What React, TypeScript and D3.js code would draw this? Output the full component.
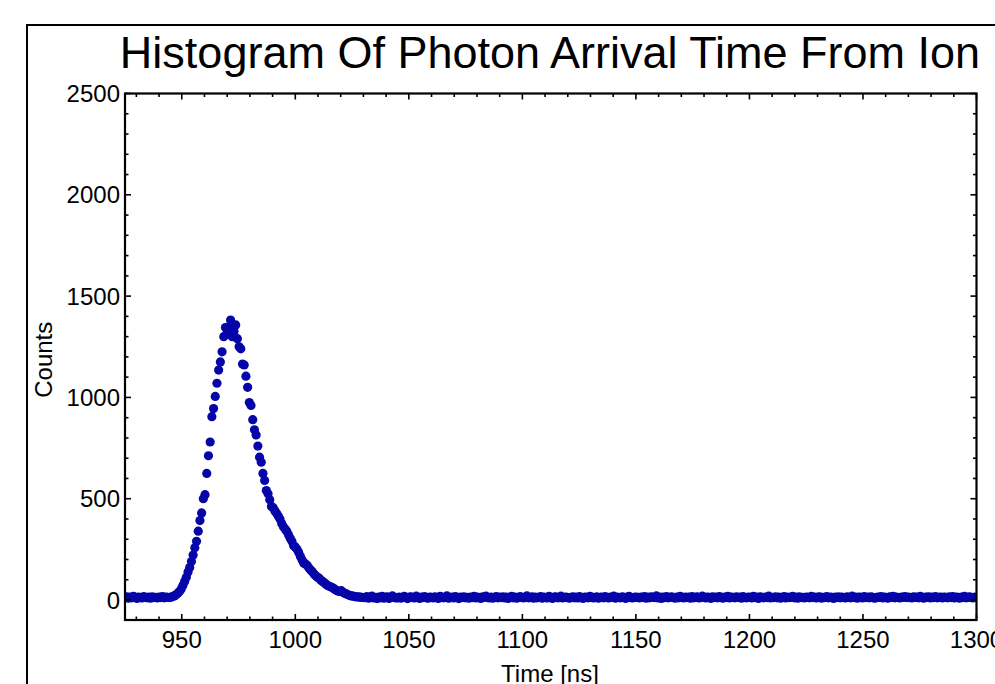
import React from "react";
import * as d3 from "d3";

// ---- data ----
const title = "Histogram Of Photon Arrival Time From Ion";
const xLabel = "Time [ns]";
const yLabel = "Counts";
const binStart = 925; // ns, time of first bin
const binWidth = 0.75; // ns
const xDomain = [925, 1300];
const yDomain = [-98.6, 2500];
const xTicks = [950, 1000, 1050, 1100, 1150, 1200, 1250, 1300];
const yTicks = [0, 500, 1000, 1500, 2000, 2500];

// counts before the pulse
const preCounts = [12, 16, 9, 14, 11, 18, 13, 8, 15, 12, 10, 17, 13, 11, 14, 9, 16, 12, 13, 10, 15, 12, 17, 11, 14, 13, 12];

// pulse region
const peakCounts = [
  14, 17, 20, 26, 33, 42, 55, 72, 92, 112, 138, 160, 190, 222, 258, 290, 340, 392, 430, 500,
  520, 625, 712, 780, 905, 945, 1005, 1070, 1135, 1175, 1225, 1300, 1345, 1320, 1350, 1382, 1300, 1325, 1358, 1290,
  1250, 1240, 1165, 1160, 1105, 1050, 975, 960, 890, 840, 815, 760, 705, 680, 625, 590, 540, 525, 495, 462,
  455, 440, 428, 415, 400, 378, 362, 350, 340, 322, 305, 290, 268, 262, 250, 235, 215, 198, 182, 178,
  170, 158, 148, 140, 128, 120, 112, 108, 98, 92, 85, 78, 72, 68, 64, 60, 54, 48, 44, 42,
  46, 38, 33, 30, 26, 22, 20, 19, 17, 15, 16, 14, 13, 12,
];

// flat tail after the pulse
const tailCounts = [
  12, 17, 9, 14, 19, 10, 13, 7, 15, 11, 18, 9, 13, 16, 8, 12, 20, 14, 10, 11,
  15, 9, 13, 18, 11, 7, 14, 16, 12, 10, 19, 13, 8, 15, 12, 17, 11, 9, 14, 13,
  10, 16, 12, 8, 18, 14, 11, 13, 20, 9, 12, 15, 10, 17, 13, 7, 14, 12, 16, 11,
  13, 9, 15, 12, 18, 10, 14, 11, 8, 16, 13, 19, 12, 10, 15, 9, 13, 17, 11, 14,
  12, 16, 10, 14, 8, 13, 18, 11, 15, 9, 12, 17, 13, 10, 14, 20, 11, 12, 16, 9,
  14, 11, 13, 17, 9, 15, 12, 10, 18, 13, 8, 14, 16, 11, 12, 19, 10, 13, 15, 12,
  9, 13, 16, 11, 14, 10, 17, 12, 8, 15, 13, 11, 18, 14, 10, 12, 16, 9, 13, 15,
  11, 17, 12, 10, 14, 13, 19, 9, 15, 12, 11, 16, 13, 8, 14, 18, 12, 10, 13, 15,
  13, 10, 15, 12, 17, 9, 14, 11, 16, 13, 12, 20, 10, 14, 8, 15, 12, 17, 11, 13,
  16, 12, 9, 14, 11, 18, 13, 10, 15, 12, 14, 9, 17, 11, 13, 16, 10, 12, 19, 14,
  10, 15, 13, 8, 16, 12, 14, 11, 17, 13, 9, 15, 12, 18, 10, 14, 13, 11, 16, 12,
  14, 9, 17, 12, 11, 15, 13, 10, 18, 12, 14, 8, 16, 13, 11, 15, 12, 19, 10, 13,
  12, 16, 11, 14, 9, 13, 17, 10, 15, 12, 13, 18, 11, 14, 9, 16, 12, 13, 10, 15,
  13, 11, 18, 12, 15, 10, 14, 16, 9, 13, 12, 17, 11, 15, 13, 8, 14, 12, 16, 11,
  15, 12, 10, 16, 13, 11, 19, 12, 14, 9, 15, 13, 10, 17, 12, 14, 11, 16, 13, 9,
  11, 14, 13, 17, 10, 15, 12, 9, 16, 13, 18, 11, 14, 12, 10, 15, 13, 17, 12, 14,
  12, 10, 16, 13, 14, 11, 18, 12, 9, 15, 13, 16, 10, 14, 12, 17, 11, 13, 15, 10,
  14, 13, 11, 16, 12, 17, 10, 15, 13, 9, 14, 12, 18, 11, 13, 16, 12, 10, 14,
];

// ---- layout ----
const W = 995;
const H = 684;
const left = 125;
const right = 976.5;
const top = 93.5;
const bottom = 620;
const font = "'Liberation Sans', Arial, Helvetica, sans-serif";
const dotColor = "#0505a8";

export default function App() {
  const counts = [...preCounts, ...peakCounts, ...tailCounts];
  const points = counts.map((c, i) => ({ t: binStart + i * binWidth, c }));

  const x = d3.scaleLinear().domain(xDomain).range([left, right]);
  const y = d3.scaleLinear().domain(yDomain).range([bottom, top]);

  const xMinor = d3.range(930, 1300, 10).filter((v) => v % 50 !== 0);
  const yMinor = d3.range(100, 2500, 100).filter((v) => v % 500 !== 0);
  const major = 6;
  const minor = 3.5;

  return (
    <svg
      width={W}
      height={H}
      style={{ position: "absolute", left: 0, top: 0, background: "#fff" }}
    >
      <rect x={0} y={0} width={W} height={H} fill="#fff" />
      {/* outer frame */}
      <rect x={27} y={25} width={W} height={H} fill="none" stroke="#000" strokeWidth={2} />

      <defs>
        <clipPath id="plotClip">
          <rect x={left} y={top} width={right - left} height={bottom - top} />
        </clipPath>
      </defs>

      {/* title */}
      <text
        x={550}
        y={68}
        textAnchor="middle"
        fontFamily={font}
        fontSize={45}
        fill="#000"
      >
        {title}
      </text>

      {/* data points */}
      <g clipPath="url(#plotClip)">
        {points.map((p, i) => (
          <circle key={i} cx={x(p.t)} cy={y(p.c)} r={4.6} fill={dotColor} />
        ))}
      </g>

      {/* ticks */}
      <g stroke="#000" strokeWidth={1.6}>
        {xTicks.map((v) => (
          <g key={"xt" + v}>
            <line x1={x(v)} x2={x(v)} y1={bottom} y2={bottom - major} />
            <line x1={x(v)} x2={x(v)} y1={top} y2={top + major} />
          </g>
        ))}
        {xMinor.map((v) => (
          <g key={"xm" + v}>
            <line x1={x(v)} x2={x(v)} y1={bottom} y2={bottom - minor} />
            <line x1={x(v)} x2={x(v)} y1={top} y2={top + minor} />
          </g>
        ))}
        {yTicks.map((v) => (
          <g key={"yt" + v}>
            <line x1={left} x2={left + major} y1={y(v)} y2={y(v)} />
            <line x1={right} x2={right - major} y1={y(v)} y2={y(v)} />
          </g>
        ))}
        {yMinor.map((v) => (
          <g key={"ym" + v}>
            <line x1={left} x2={left + minor} y1={y(v)} y2={y(v)} />
            <line x1={right} x2={right - minor} y1={y(v)} y2={y(v)} />
          </g>
        ))}
      </g>

      {/* plot frame */}
      <rect
        x={left}
        y={top}
        width={right - left}
        height={bottom - top}
        fill="none"
        stroke="#000"
        strokeWidth={2.2}
      />

      {/* tick labels */}
      <g fontFamily={font} fontSize={24} fill="#000">
        {xTicks.map((v) => (
          <text key={"xl" + v} x={x(v)} y={648} textAnchor="middle">
            {v}
          </text>
        ))}
        {yTicks.map((v) => (
          <text key={"yl" + v} x={left - 5} y={y(v) + 8.5} textAnchor="end">
            {v}
          </text>
        ))}
      </g>

      {/* axis labels */}
      <text
        x={550}
        y={681.5}
        textAnchor="middle"
        fontFamily={font}
        fontSize={24}
        fill="#000"
      >
        {xLabel}
      </text>
      <text
        transform={`translate(52, ${(top + bottom) / 2 + 3}) rotate(-90)`}
        textAnchor="middle"
        fontFamily={font}
        fontSize={24}
        fill="#000"
      >
        {yLabel}
      </text>
    </svg>
  );
}
